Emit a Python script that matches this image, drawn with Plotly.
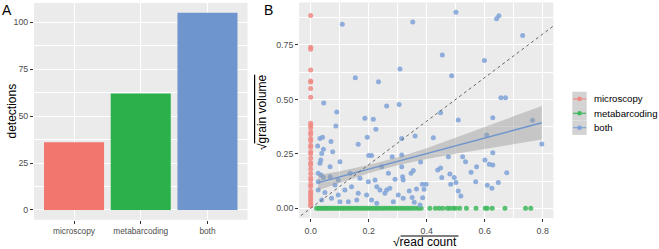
import plotly.graph_objects as go

W, H = 659, 249

# ---------------- data ----------------
categories = ["microscopy", "metabarcoding", "both"]
detections = [36, 62, 105]
colors = ["#F3766E", "#2BB14B", "#6E95CD"]
pt_colors = ["#F08A84", "#3DB85A", "#7FA2D8"]

micro_y = [0.885, 0.740, 0.730, 0.635, 0.585, 0.580, 0.550, 0.510,
           0.390, 0.380, 0.370, 0.350, 0.340, 0.320, 0.310, 0.290, 0.280, 0.260,
           0.250, 0.230, 0.210, 0.200, 0.180, 0.160, 0.140, 0.130, 0.110, 0.100,
           0.080, 0.070, 0.060, 0.050, 0.040, 0.030, 0.020, 0.010]

meta_x = [0.020, 0.027, 0.033, 0.040, 0.046, 0.052, 0.058, 0.064, 0.071, 0.078,
          0.085, 0.092, 0.099, 0.106, 0.113, 0.120, 0.128, 0.135, 0.142, 0.150,
          0.158, 0.165, 0.173, 0.181, 0.189, 0.197, 0.205, 0.213, 0.222, 0.230,
          0.238, 0.247, 0.255, 0.264, 0.272, 0.281, 0.290, 0.298, 0.307, 0.316,
          0.325, 0.334, 0.343, 0.352, 0.362, 0.372, 0.381,
          0.411, 0.430, 0.443, 0.455, 0.471, 0.480, 0.492, 0.500, 0.514, 0.537,
          0.570, 0.602, 0.609, 0.626, 0.670, 0.741, 0.759]

both_x = [0.109, 0.154, 0.234, 0.308, 0.045, 0.090, 0.262, 0.305, 0.087, 0.187,
          0.216, 0.225, 0.352, 0.501, 0.641, 0.649, 0.731, 0.454, 0.599, 0.486,
          0.656, 0.672, 0.448, 0.509, 0.628, 0.765, 0.314, 0.360, 0.423, 0.607,
          0.797, 0.628, 0.379, 0.475, 0.524, 0.534, 0.601, 0.616, 0.628, 0.572,
          0.553, 0.676, 0.438, 0.448, 0.354, 0.346, 0.314, 0.480, 0.495, 0.452,
          0.569, 0.501, 0.483, 0.609, 0.625, 0.647, 0.385, 0.398, 0.317, 0.319,
          0.365, 0.391, 0.340, 0.509, 0.518, 0.350, 0.386, 0.357, 0.377,
          0.032, 0.041, 0.024, 0.044, 0.070, 0.076, 0.038, 0.164, 0.195, 0.200,
          0.210, 0.032, 0.035, 0.067, 0.101, 0.281, 0.245, 0.026, 0.036, 0.026,
          0.044, 0.067, 0.095, 0.084, 0.141, 0.118, 0.026, 0.049, 0.038, 0.072,
          0.095, 0.130, 0.101, 0.164, 0.193, 0.170, 0.199, 0.222, 0.228, 0.239,
          0.256, 0.210, 0.228, 0.262, 0.273, 0.291, 0.268, 0.302, 0.285, 0.159,
          0.136, 0.314, 0.319]
both_y = [0.845, 0.600, 0.581, 0.640, 0.483, 0.442, 0.470, 0.477, 0.378, 0.414,
          0.409, 0.363, 0.855, 0.900, 0.870, 0.884, 0.793, 0.704, 0.679, 0.609,
          0.508, 0.508, 0.439, 0.405, 0.416, 0.404, 0.321, 0.332, 0.324, 0.337,
          0.295, 0.255, 0.213, 0.237, 0.237, 0.214, 0.222, 0.202, 0.199, 0.191,
          0.165, 0.163, 0.176, 0.185, 0.174, 0.161, 0.191, 0.157, 0.142, 0.141,
          0.122, 0.118, 0.110, 0.106, 0.092, 0.118, 0.110, 0.110, 0.145, 0.130,
          0.089, 0.087, 0.079, 0.079, 0.056, 0.050, 0.049, 0.028, 0.015,
          0.321, 0.326, 0.286, 0.271, 0.307, 0.260, 0.252, 0.294, 0.326, 0.242,
          0.242, 0.207, 0.222, 0.191, 0.214, 0.237, 0.191, 0.161, 0.153, 0.122,
          0.142, 0.145, 0.130, 0.107, 0.099, 0.084, 0.084, 0.072, 0.038, 0.046,
          0.061, 0.030, 0.030, 0.069, 0.061, 0.138, 0.122, 0.130, 0.099, 0.084,
          0.069, 0.038, 0.023, 0.084, 0.092, 0.133, 0.161, 0.061, 0.030, 0.038,
          0.161, 0.245, 0.046]

# linear fit for "both" with its confidence band
fit_x = [0.026, 0.100, 0.200, 0.300, 0.400, 0.500, 0.600, 0.700, 0.797]
fit_y = [0.118, 0.144, 0.180, 0.216, 0.251, 0.287, 0.322, 0.358, 0.393]
fit_half = [0.035, 0.026, 0.019, 0.018, 0.025, 0.037, 0.050, 0.063, 0.077]
identity_line = [-0.1, 1.0]

ytick_a = [0, 25, 50, 75, 100]
xtick_b = [0.0, 0.2, 0.4, 0.6, 0.8]
xtick_b_text = ["0.0", "0.2", "0.4", "0.6", "0.8"]
ytick_b = [0.0, 0.25, 0.5, 0.75]
ytick_b_text = ["0.00", "0.25", "0.50", "0.75"]

# ---------------- figure ----------------
def px(x):
    return x / W

def py(y):
    return 1 - y / H

FONT = "Liberation Sans, Arial, sans-serif"
TICKC = "#4D4D4D"
fig = go.Figure()

fig.add_trace(go.Bar(x=categories, y=detections, marker=dict(color=colors, line=dict(width=0)),
                     width=0.9, xaxis="x", yaxis="y", showlegend=False))

fit_lo = [a - b for a, b in zip(fit_y, fit_half)]
fit_hi = [a + b for a, b in zip(fit_y, fit_half)]

fig.add_trace(go.Scatter(x=[0] * len(micro_y), y=micro_y, mode="markers",
                         marker=dict(color=pt_colors[0], size=5, opacity=0.85),
                         xaxis="x2", yaxis="y2", showlegend=False))
fig.add_trace(go.Scatter(x=meta_x, y=[0] * len(meta_x), mode="markers",
                         marker=dict(color=pt_colors[1], size=5, opacity=0.85),
                         xaxis="x2", yaxis="y2", showlegend=False))
fig.add_trace(go.Scatter(x=both_x, y=both_y, mode="markers",
                         marker=dict(color=pt_colors[2], size=5, opacity=0.85),
                         xaxis="x2", yaxis="y2", showlegend=False))
fig.add_trace(go.Scatter(x=fit_x + fit_x[::-1], y=fit_hi + fit_lo[::-1], fill="toself",
                         fillcolor="rgba(153,153,153,0.45)", line=dict(width=0),
                         mode="lines", xaxis="x2", yaxis="y2", showlegend=False,
                         hoverinfo="skip"))
fig.add_trace(go.Scatter(x=fit_x, y=fit_y, mode="lines", line=dict(color="#6E95CD", width=1.5),
                         xaxis="x2", yaxis="y2", showlegend=False))
fig.add_trace(go.Scatter(x=identity_line, y=identity_line, mode="lines",
                         line=dict(color="#666666", width=1, dash="3px,3px"),
                         xaxis="x2", yaxis="y2", showlegend=False))

def axis_style(size):
    return dict(showgrid=True, gridcolor="white", gridwidth=1.1, zeroline=False,
                ticks="outside", ticklen=3, tickwidth=1, tickcolor="#333333",
                tickfont=dict(family=FONT, size=size, color=TICKC), showline=False)

fig.update_layout(
    width=W, height=H, margin=dict(l=0, r=0, t=0, b=0),
    paper_bgcolor="white", plot_bgcolor="#EBEBEB",
    bargap=0.1,
    xaxis=dict(domain=[px(34), px(247.5)], range=[-0.6, 2.6], type="category",
               **axis_style(8.3)),
    yaxis=dict(domain=[py(219.8), py(3)], range=[-5.25, 110.25],
               tickvals=ytick_a, ticktext=[str(v) for v in ytick_a],
               minor=dict(dtick=12.5, tick0=0, showgrid=True, gridcolor="white", gridwidth=0.5,
                          ticks=""),
               **axis_style(8.8)),
    xaxis2=dict(domain=[px(299.1), px(553.4)], range=[-0.0399, 0.837], anchor="y2",
                tickvals=xtick_b, ticktext=xtick_b_text, ticklabelstandoff=1,
                minor=dict(dtick=0.1, tick0=0, showgrid=True, gridcolor="white", gridwidth=0.5,
                           ticks=""),
                **axis_style(8.8)),
    yaxis2=dict(domain=[py(218.1), py(2.5)], range=[-0.045, 0.945], anchor="x2",
                tickvals=ytick_b, ticktext=ytick_b_text,
                minor=dict(dtick=0.125, tick0=0, showgrid=True, gridcolor="white", gridwidth=0.5,
                           ticks=""),
                **axis_style(8.8)),
)

ann = []
shapes = []
ann.append(dict(text="A", x=px(0), y=py(0), xref="paper", yref="paper", xanchor="left",
                yanchor="top", showarrow=False, font=dict(family=FONT, size=14, color="black")))
ann.append(dict(text="B", x=px(262), y=py(0), xref="paper", yref="paper", xanchor="left",
                yanchor="top", showarrow=False, font=dict(family=FONT, size=14, color="black")))
ann.append(dict(text="detections", x=px(11.5), y=py(111), xref="paper", yref="paper",
                xanchor="center", yanchor="middle",
                textangle=-90, showarrow=False, font=dict(family=FONT, size=12, color="black")))
ann.append(dict(text="√<span style='text-decoration:overline'>grain volume</span>",
                x=px(262), y=py(112), xref="paper", yref="paper",
                xanchor="center", yanchor="middle",
                textangle=-90, showarrow=False, font=dict(family=FONT, size=12, color="black")))
ann.append(dict(text="√read count",
                x=px(425.5), y=py(241.5), xref="paper", yref="paper",
                xanchor="center", yanchor="middle", borderpad=0,
                showarrow=False, font=dict(family=FONT, size=12, color="black")))
# overline of the square-root sign
shapes.append(dict(type="line", xref="paper", yref="paper", x0=px(400.5), x1=px(458.5),
                   y0=py(236), y1=py(236), line=dict(color="black", width=1)))

# manual legend (ggplot-style keys)
leg_labels = categories
box_top = [91.7, 106.1, 120.5]
for lab, top, c in zip(leg_labels, box_top, pt_colors):
    bot = top + 14.4
    cy = (top + bot) / 2
    shapes.append(dict(type="rect", xref="paper", yref="paper", x0=px(572.3), x1=px(586.7),
                       y0=py(bot), y1=py(top), fillcolor="#D3D3D3", line=dict(width=0)))
    shapes.append(dict(type="line", xref="paper", yref="paper", x0=px(573), x1=px(586),
                       y0=py(cy), y1=py(cy), line=dict(color=c, width=1.2)))
    shapes.append(dict(type="circle", xref="paper", yref="paper", x0=px(577.2), x1=px(581.8),
                       y0=py(cy + 2.3), y1=py(cy - 2.3), fillcolor=c, line=dict(width=0)))
    ann.append(dict(text=lab, x=px(591.5), y=py(cy), xref="paper", yref="paper", xanchor="left",
                    yanchor="middle", showarrow=False,
                    font=dict(family=FONT, size=9.6, color="black")))

fig.update_layout(annotations=ann, shapes=shapes)
fig.write_html("out.html", config={"displayModeBar": False},
               post_script="document.body.style.margin='0';document.body.style.padding='0';")
